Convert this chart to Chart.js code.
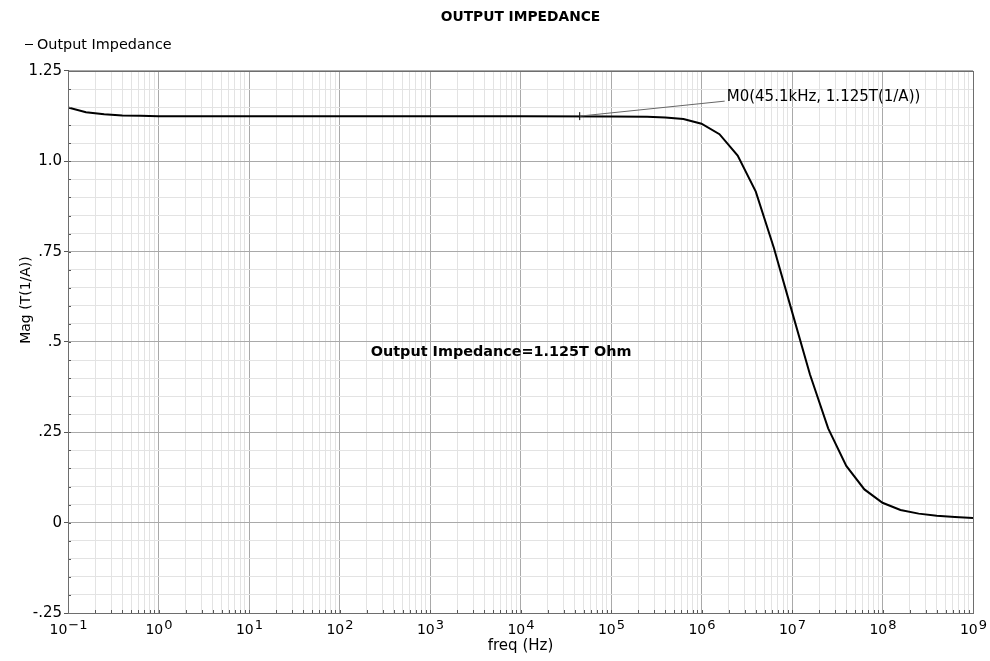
<!DOCTYPE html>
<html>
<head>
<meta charset="utf-8">
<title>Output Impedance</title>
<script src="https://cdn.jsdelivr.net/npm/chart.js@4.4.1/dist/chart.umd.min.js"></script>
<style>
  html, body { margin: 0; padding: 0; background: #fff; }
</style>
</head>
<body>
<canvas id="zoutChart" width="990" height="661"></canvas>
<script>
// AC sweep of the output impedance magnitude
var freqs = [0.1, 0.158, 0.251, 0.398, 0.631, 1, 10, 100, 1e3, 1e4, 1e5, 2.51e5, 3.98e5, 6.31e5,
    1e6, 1.58e6, 2.51e6, 3.98e6, 6.31e6, 1e7, 1.58e7, 2.51e7, 3.98e7, 6.31e7,
    1e8, 1.58e8, 2.51e8, 3.98e8, 6.31e8, 1e9];
var mags = [1.149, 1.136, 1.130, 1.127, 1.126, 1.125, 1.125, 1.125, 1.125, 1.125, 1.124, 1.123, 1.121, 1.117,
    1.104, 1.075, 1.016, 0.916, 0.760, 0.584, 0.410, 0.261, 0.157, 0.092,
    0.055, 0.035, 0.025, 0.019, 0.016, 0.013];

// marker M0
var markerFreq = 45100;
var markerMag = 1.125;
var markerText = 'M0(45.1kHz, 1.125T(1/A))';

// free text label on the plot
var noteText = 'Output Impedance=1.125T Ohm';
var noteFreq = 6100;
var noteMag = 0.472;

var yAxisTitle = 'Mag (T(1/A))';
var xDecades = [-1, 0, 1, 2, 3, 4, 5, 6, 7, 8, 9];
var yMajorTicks = [-0.25, 0, 0.25, 0.5, 0.75, 1.0, 1.25];
var yTickLabels = ['-.25', '0', '.25', '.5', '.75', '1.0', '1.25'];

var FONT = '"DejaVu Sans", "Liberation Sans", sans-serif';
var majorGrid = '#a9a9a9';
var minorGrid = '#e3e3e3';

function isDecade(v) {
    var l = Math.log10(v);
    return Math.abs(l - Math.round(l)) < 1e-6;
}

function isYMajor(v) {
    return yMajorTicks.some(function (m) { return Math.abs(m - v) < 1e-6; });
}

// frame, inner ticks, decade labels, legend, marker label and note
var decorPlugin = {
    id: 'decor',
    afterDraw: function (chart) {
        var ctx = chart.ctx;
        var xs = chart.scales.x, ys = chart.scales.y;
        var a = chart.chartArea;
        ctx.save();

        // small ticks inside the frame
        ctx.strokeStyle = '#555';
        ctx.lineWidth = 1;
        ctx.beginPath();
        xs.ticks.forEach(function (t) {
            var px = Math.round(xs.getPixelForValue(t.value)) + 0.5;
            ctx.moveTo(px, a.bottom);
            ctx.lineTo(px, a.bottom - 3);
        });
        ys.ticks.forEach(function (t) {
            var py = Math.round(ys.getPixelForValue(t.value)) + 0.5;
            ctx.moveTo(a.left, py);
            ctx.lineTo(a.left + 3, py);
        });
        ctx.stroke();

        // frame
        ctx.strokeStyle = '#6e6e6e';
        ctx.strokeRect(Math.round(a.left) + 0.5, Math.round(a.top) + 0.5,
            Math.round(a.right - a.left), Math.round(a.bottom - a.top));

        // 10^n labels
        ctx.fillStyle = '#000';
        ctx.textBaseline = 'alphabetic';
        ctx.textAlign = 'left';
        xDecades.forEach(function (e) {
            var px = xs.getPixelForValue(Math.pow(10, e));
            var exp = e < 0 ? '\u2212' + Math.abs(e) : String(e);
            ctx.font = '14px ' + FONT;
            var w1 = ctx.measureText('10').width;
            ctx.font = '13px ' + FONT;
            var w2 = ctx.measureText(exp).width;
            var x0 = px - (w1 + w2) / 2;
            ctx.font = '14px ' + FONT;
            ctx.fillText('10', x0, a.bottom + 21);
            ctx.font = '13px ' + FONT;
            ctx.fillText(exp, x0 + w1 + 1, a.bottom + 16);
        });

        // y axis title, sitting a bit above the middle
        ctx.save();
        ctx.translate(26, 300);
        ctx.rotate(-Math.PI / 2);
        ctx.font = '14px ' + FONT;
        ctx.textAlign = 'center';
        ctx.textBaseline = 'middle';
        ctx.fillText(yAxisTitle, 0, 0);
        ctx.restore();

        // legend
        var ds = chart.data.datasets[0];
        ctx.strokeStyle = ds.borderColor;
        ctx.lineWidth = 1;
        ctx.beginPath();
        ctx.moveTo(25, 44.5);
        ctx.lineTo(33, 44.5);
        ctx.stroke();
        ctx.font = '14.4px ' + FONT;
        ctx.textBaseline = 'middle';
        ctx.fillText(ds.label, 37, 45);

        // marker leader and label
        var mx = xs.getPixelForValue(markerFreq);
        var my = ys.getPixelForValue(markerMag);
        ctx.strokeStyle = '#666';
        ctx.beginPath();
        ctx.moveTo(mx, my);
        ctx.lineTo(mx + 145, my - 15);
        ctx.stroke();
        ctx.fillStyle = '#000';
        ctx.font = '15px ' + FONT;
        ctx.fillText(markerText, mx + 147, my - 19);

        // note
        ctx.font = 'bold 14.4px ' + FONT;
        ctx.textAlign = 'center';
        ctx.fillText(noteText, xs.getPixelForValue(noteFreq), ys.getPixelForValue(noteMag));
        ctx.restore();
    }
};

var ctxZout = document.getElementById('zoutChart').getContext('2d');

new Chart(ctxZout, {
    type: 'line',
    data: {
        datasets: [{
            label: 'Output Impedance',
            data: freqs.map(function (f, i) { return { x: f, y: mags[i] }; }),
            borderColor: '#000',
            borderWidth: 2,
            pointRadius: 0,
            tension: 0
        }, {
            label: 'M0',
            data: [{ x: markerFreq, y: markerMag }],
            showLine: false,
            pointStyle: 'line',
            rotation: 90,
            pointRadius: 4,
            borderColor: '#000',
            borderWidth: 1
        }]
    },
    options: {
        responsive: false,
        animation: false,
        events: [],
        layout: {
            padding: { left: 0, right: 17, top: 0, bottom: 0 }
        },
        plugins: {
            legend: { display: false },
            tooltip: { enabled: false },
            title: {
                display: true,
                text: 'OUTPUT IMPEDANCE',
                fullSize: false,
                color: '#000',
                font: { family: FONT, size: 13.8, weight: 'bold' },
                padding: { top: 9, bottom: 45.4 }
            }
        },
        scales: {
            x: {
                type: 'logarithmic',
                min: 0.1,
                max: 1e9,
                afterBuildTicks: function (scale) {
                    var t = [];
                    for (var e = -1; e < 9; e++) {
                        for (var m = 1; m < 10; m++) {
                            t.push({ value: m * Math.pow(10, e) });
                        }
                    }
                    t.push({ value: 1e9 });
                    scale.ticks = t;
                },
                afterFit: function (scale) { scale.height = 48; },
                ticks: { display: false },
                grid: {
                    color: function (c) { return c.tick && isDecade(c.tick.value) ? majorGrid : minorGrid; },
                    drawTicks: false
                },
                border: { color: '#555' },
                title: {
                    display: true,
                    text: 'freq (Hz)',
                    color: '#000',
                    font: { family: FONT, size: 15 },
                    padding: { top: 0, bottom: 5.5 }
                }
            },
            y: {
                min: -0.25,
                max: 1.25,
                afterBuildTicks: function (scale) {
                    var t = [];
                    for (var i = 0; i <= 30; i++) {
                        t.push({ value: (i * 5 - 25) / 100 });
                    }
                    scale.ticks = t;
                },
                afterFit: function (scale) { scale.width = 68; },
                ticks: {
                    autoSkip: false,
                    padding: 2,
                    color: '#000',
                    font: { family: FONT, size: 15 },
                    callback: function (value) {
                        for (var i = 0; i < yMajorTicks.length; i++) {
                            if (Math.abs(yMajorTicks[i] - value) < 1e-6) return yTickLabels[i];
                        }
                        return '';
                    }
                },
                grid: {
                    color: function (c) { return c.tick && isYMajor(c.tick.value) ? majorGrid : minorGrid; },
                    tickColor: function (c) { return c.tick && isYMajor(c.tick.value) ? '#555' : 'rgba(0,0,0,0)'; },
                    tickLength: 4
                },
                border: { color: '#555' }
            }
        }
    },
    plugins: [decorPlugin]
});
</script>
</body>
</html>
